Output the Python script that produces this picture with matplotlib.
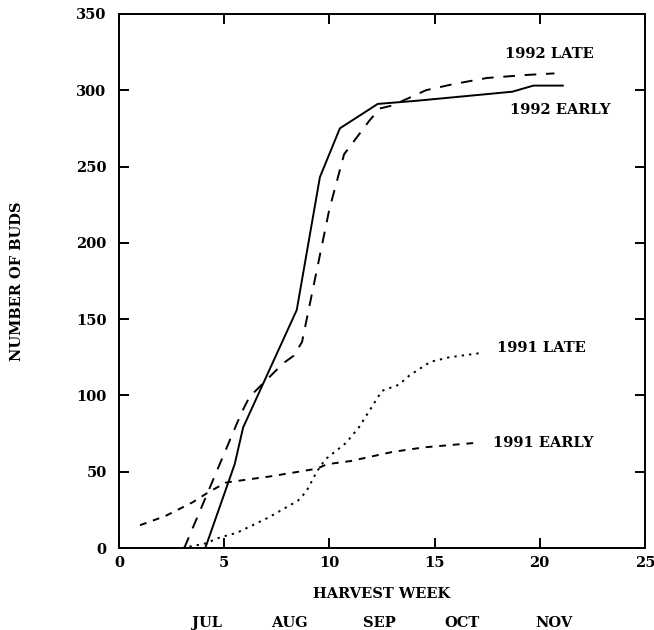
"""
plot.py

Cumulative bud counts by harvest week, 1991 and 1992 early/late plantings.
"""

import matplotlib
matplotlib.use("Agg")
import matplotlib.pyplot as plt

# 1992 early (solid)
early92_week = [3.0, 4.1, 5.5, 5.9, 8.45, 9.55, 10.5, 12.3, 14.1, 18.7, 19.7, 21.1]
early92_buds = [0, 0, 55, 79, 156, 243, 275, 291, 293, 299, 303, 303]

# 1992 late (long dashes)
late92_week = [3.1, 5.8, 6.2, 7.8, 8.3, 8.7, 10.0, 10.7, 11.9, 12.4, 13.0, 14.6, 15.9, 17.5, 19.4, 20.7]
late92_buds = [0, 88, 99, 121, 126, 135, 222, 258, 280, 288, 290, 300, 304, 308, 310, 311]

# 1991 late (dotted)
late91_week = [3.0, 4.1, 4.8, 5.6, 7.1, 8.5, 8.9, 9.4, 9.8, 10.8, 11.4, 12.5, 13.3, 13.8, 14.8, 15.7, 17.3]
late91_buds = [0, 3, 7, 10, 20, 31, 37, 50, 58, 69, 79, 103, 107, 113, 122, 125, 128]

# 1991 early (short dashes)
early91_week = [1.0, 2.2, 3.5, 4.3, 5.1, 7.2, 9.4, 9.9, 11.0, 13.0, 14.5, 17.0]
early91_buds = [15, 21, 30, 37, 43, 47, 52, 55, 57, 63, 66, 69]

x_ticks = [0, 5, 10, 15, 20, 25]
y_ticks = [0, 50, 100, 150, 200, 250, 300, 350]

months = ["JUL", "AUG", "SEP", "OCT", "NOV"]
month_pos = [4.2, 8.1, 12.4, 16.3, 20.7]

plt.rcParams["font.family"] = "DejaVu Serif"
plt.rcParams["font.weight"] = "bold"

fig = plt.figure(figsize=(6.54, 6.30), dpi=100)
ax = fig.add_axes([0.182, 0.130, 0.804, 0.848])

lw = 1.4
ax.plot(early92_week, early92_buds, color="black", lw=lw, linestyle="-")
ax.plot(late92_week, late92_buds, color="black", lw=lw, linestyle=(0, (6, 5)))
ax.plot(late91_week, late91_buds, color="black", lw=lw, linestyle=(0, (1.2, 2.6)))
ax.plot(early91_week, early91_buds, color="black", lw=lw, linestyle=(0, (3.5, 3.5)))

label_kw = dict(fontsize=10.5, fontweight="bold", va="center", ha="left")
ax.text(18.35, 324, "1992 LATE", **label_kw)
ax.text(18.6, 287, "1992 EARLY", **label_kw)
ax.text(17.95, 131, "1991 LATE", **label_kw)
ax.text(17.8, 69, "1991 EARLY", **label_kw)

ax.set_xlim(0, 25)
ax.set_ylim(0, 350)
ax.set_xticks(x_ticks)
ax.set_yticks(y_ticks)
ax.tick_params(direction="in", length=7, width=1.4, top=True, right=True,
               labelsize=10.5, pad=6)
ax.tick_params(axis="y", pad=9)
for spine in ax.spines.values():
    spine.set_linewidth(1.4)

ax.set_xlabel("HARVEST WEEK", fontsize=10.5, fontweight="bold", labelpad=12)
ax.set_ylabel("NUMBER OF BUDS", fontsize=10.5, fontweight="bold")
ax.yaxis.set_label_coords(-0.18, 0.5)

for name, pos in zip(months, month_pos):
    ax.text(pos, -0.140, name, transform=ax.get_xaxis_transform(),
            fontsize=10.5, fontweight="bold", ha="center", va="center")

fig.savefig("out.png", dpi=100)
